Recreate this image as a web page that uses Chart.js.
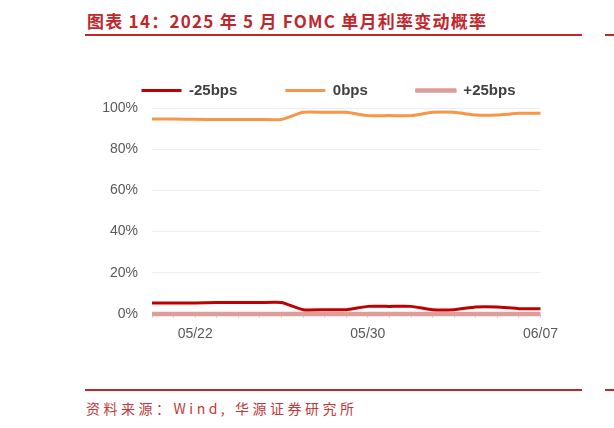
<!DOCTYPE html>
<html>
<head>
<meta charset="utf-8">
<script src="https://cdn.jsdelivr.net/npm/chart.js@4"></script>
<style>
  body { margin: 0; width: 614px; height: 428px; background: #fff; position: relative; overflow: hidden; }
  .title { position: absolute; left: 87px; top: 8px; font-family: "Noto Sans CJK SC"; font-weight: bold; font-size: 17px; color: #C0272D; letter-spacing: 1.25px; white-space: pre; }
  .rule { position: absolute; height: 2px; background: #C0272D; }
  .source { position: absolute; left: 86px; top: 398px; font-family: "Noto Sans CJK SC"; font-size: 14px; color: #C0393B; letter-spacing: 3.5px; white-space: pre; }
  #wrap { position: absolute; left: 80px; top: 35px; width: 497px; height: 315px; }
</style>
</head>
<body>
<div class="title">图表 14：2025 年 5 月 FOMC 单月利率变动概率</div>
<div class="rule" style="left:85px; top:34px; width:497px;"></div>
<div class="rule" style="left:605px; top:34px; width:10px;"></div>
<div class="rule" style="left:85px; top:389px; width:497px;"></div>
<div class="rule" style="left:605px; top:389px; width:10px;"></div>
<div id="wrap"><canvas id="fomc-chart"></canvas></div>
<script>
// dates (daily) and probabilities in %
const dates = ["05/20", "05/21", "05/22", "05/23", "05/24", "05/25", "05/26", "05/27",
  "05/28", "05/29", "05/30", "05/31", "06/01", "06/02", "06/03", "06/04", "06/05",
  "06/06", "06/07"];
const cut25 = [5.3, 5.3, 5.4, 5.6, 5.6, 5.6, 5.6, 2.1, 2.1, 2.1, 3.7, 3.7, 3.7, 2.1, 2.1,
  3.4, 3.4, 2.6, 2.6];
const hold = [94.7, 94.6, 94.5, 94.4, 94.4, 94.4, 94.4, 97.9, 97.9, 97.9, 96.3, 96.3,
  96.3, 97.9, 97.9, 96.6, 96.6, 97.4, 97.4];
const hike25 = [0, 0, 0, 0, 0, 0, 0, 0, 0, 0, 0, 0, 0, 0, 0, 0, 0, 0, 0];
const shownDates = ["05/22", "05/30", "06/07"];

const ctx = document.getElementById("fomc-chart");

new Chart(ctx, {
  type: "line",
  data: {
    labels: dates,
    datasets: [
      {
        label: "-25bps",
        data: cut25,
        borderColor: "#C00000",
        backgroundColor: "#C00000",
        borderWidth: 3,
        clip: 6,
      },
      {
        label: "0bps",
        data: hold,
        borderColor: "#F79646",
        backgroundColor: "#F79646",
        borderWidth: 3,
        clip: 6,
      },
      {
        label: "+25bps",
        data: hike25,
        borderColor: "#DE9C9A",
        backgroundColor: "#DE9C9A",
        borderWidth: 4.5,
        clip: 6,
      },
    ],
  },
  options: {
    responsive: true,
    maintainAspectRatio: false,
    animation: false,
    elements: {
      point: { radius: 0 },
      line: { tension: 0.15, borderJoinStyle: "round" },
    },
    layout: { padding: 0 },
    plugins: {
      tooltip: { enabled: false },
      legend: {
        position: "top",
        maxHeight: 73,
        labels: {
          boxWidth: 40,
          boxHeight: 3,
          padding: 48,
          color: "#404040",
          font: { family: "Liberation Sans", size: 15, weight: "bold" },
          generateLabels: (chart) => {
            // flat line keys; the +25bps key is a little thicker
            return Chart.defaults.plugins.legend.labels
              .generateLabels(chart)
              .map((item, i) => ({ ...item, lineWidth: i === 2 ? 1.5 : 0 }));
          },
        },
      },
    },
    scales: {
      x: {
        offset: false,
        grid: {
          drawOnChartArea: false,
          color: "#D9D9D9",
          tickLength: 4,
        },
        border: { color: "#D9D9D9" },
        ticks: {
          autoSkip: false,
          maxRotation: 0,
          color: "#595959",
          font: { family: "Liberation Sans", size: 14 },
          padding: 8,
          callback: function (value) {
            const lbl = this.getLabelForValue(value);
            return shownDates.includes(lbl) ? lbl : "";
          },
        },
        afterFit: (scale) => {
          scale.height = 36;
        },
      },
      y: {
        min: 0,
        max: 100,
        border: { display: false },
        grid: { color: "#E8EFF6", drawTicks: false },
        ticks: {
          stepSize: 20,
          padding: 14,
          color: "#595959",
          font: { family: "Liberation Sans", size: 14 },
          callback: (v) => v + "%",
        },
        afterFit: (scale) => {
          scale.width = 72;
        },
      },
      // empty right axis, only keeps room on the right of the plot
      yRight: {
        position: "right",
        display: true,
        grid: { display: false },
        border: { display: false },
        ticks: { display: false },
        afterFit: (scale) => {
          scale.width = 36.5;
        },
      },
    },
  },
});
</script>
<div class="source">资料来源：Wind, 华源证券研究所</div>
</body>
</html>
